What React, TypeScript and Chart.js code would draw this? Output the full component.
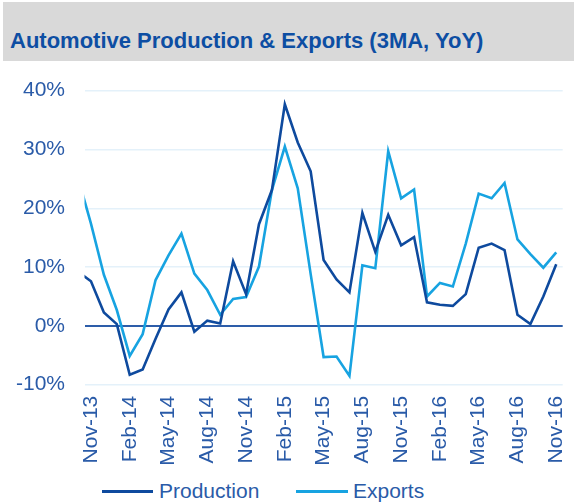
import React, { useEffect, useRef } from "react";
import { Chart, registerables } from "chart.js";

Chart.register(...registerables);

const months: string[] = [
  "Oct-13", "Nov-13", "Dec-13",
  "Jan-14", "Feb-14", "Mar-14", "Apr-14", "May-14", "Jun-14", "Jul-14", "Aug-14", "Sep-14", "Oct-14", "Nov-14", "Dec-14",
  "Jan-15", "Feb-15", "Mar-15", "Apr-15", "May-15", "Jun-15", "Jul-15", "Aug-15", "Sep-15", "Oct-15", "Nov-15", "Dec-15",
  "Jan-16", "Feb-16", "Mar-16", "Apr-16", "May-16", "Jun-16", "Jul-16", "Aug-16", "Sep-16", "Oct-16", "Nov-16",
];

const tickMonths: string[] = [
  "Nov-13", "Feb-14", "May-14", "Aug-14", "Nov-14", "Feb-15", "May-15",
  "Aug-15", "Nov-15", "Feb-16", "May-16", "Aug-16", "Nov-16",
];

const production: number[] = [
  9.2, 7.6, 2.3,
  0.3, -8.3, -7.4, -2.2, 2.8, 5.7, -1.0, 0.9, 0.4, 11.0, 5.4, 17.3,
  23.1, 37.7, 31.2, 26.3, 11.2, 7.9, 5.7, 19.2, 12.6, 18.9, 13.7, 15.1,
  4.0, 3.6, 3.4, 5.4, 13.3, 14.0, 12.9, 1.9, 0.3, 5.0, 10.5,
];

const exportsData: number[] = [
  25.2, 17.4, 8.7,
  2.7, -5.1, -1.4, 7.8, 12.0, 15.7, 8.9, 6.1, 1.9, 4.6, 4.9, 10.1,
  23.1, 30.5, 23.4, 8.8, -5.3, -5.2, -8.5, 10.3, 9.8, 29.7, 21.7, 23.2,
  5.0, 7.3, 6.7, 14.0, 22.5, 21.7, 24.3, 14.7, 12.2, 9.9, 12.5,
];

const seriesNames = ["Production", "Exports"];
const PROD_COLOR = "#0E4A9E";
const EXP_COLOR = "#17A3E1";
const TEXT_COLOR = "#2A5BA8";
const FONT = "'Liberation Sans', Arial, sans-serif";

const CANVAS_TOP = 61;
const CANVAS_H = 415;

export default function App() {
  const ref = useRef<HTMLCanvasElement | null>(null);

  useEffect(() => {
    if (!ref.current) return;
    const chart = new Chart(ref.current, {
      type: "line",
      data: {
        labels: months,
        datasets: [
          {
            label: seriesNames[0],
            data: production,
            borderColor: PROD_COLOR,
            backgroundColor: PROD_COLOR,
            borderWidth: 2.6,
            pointRadius: 0,
            tension: 0,
          },
          {
            label: seriesNames[1],
            data: exportsData,
            borderColor: EXP_COLOR,
            backgroundColor: EXP_COLOR,
            borderWidth: 2.6,
            pointRadius: 0,
            tension: 0,
          },
        ],
      },
      options: {
        responsive: false,
        animation: false,
        events: [],
        layout: { padding: { top: 29.7, right: 11.3, bottom: 0, left: 0 } },
        plugins: { legend: { display: false }, tooltip: { enabled: false } },
        scales: {
          x: {
            type: "category",
            min: "Nov-13",
            offset: true,
            grid: { display: false, drawTicks: false },
            border: { display: false },
            afterFit: (s: any) => {
              s.height = CANVAS_H - 29.7 - 294;
              s.paddingLeft = 0;
              s.paddingRight = 0;
            },
            ticks: {
              autoSkip: false,
              maxRotation: 90,
              minRotation: 90,
              padding: 11,
              color: TEXT_COLOR,
              font: { family: FONT, size: 21 },
              callback: function (this: any, value: any) {
                const lab = this.getLabelForValue(value);
                return tickMonths.includes(lab) ? lab : "";
              },
            },
          },
          y: {
            min: -10,
            max: 40,
            afterFit: (s: any) => {
              s.width = 84.5;
              s.paddingTop = 0;
              s.paddingBottom = 0;
            },
            grid: {
              drawTicks: false,
              color: (ctx: any) => (ctx.tick && ctx.tick.value === 0 ? "#2D5DA9" : "#E4F1FA"),
              lineWidth: (ctx: any) => (ctx.tick && ctx.tick.value === 0 ? 2 : 1.5),
            },
            border: { display: false },
            ticks: {
              stepSize: 10,
              padding: 19.5,
              color: TEXT_COLOR,
              font: { family: FONT, size: 21 },
              callback: (v: any) => `${v}%`,
            },
          },
        },
      },
    });
    return () => chart.destroy();
  }, []);

  const legendText: React.CSSProperties = {
    position: "absolute",
    top: 479,
    fontFamily: FONT,
    fontSize: 21,
    color: TEXT_COLOR,
    lineHeight: "24px",
    whiteSpace: "nowrap",
  };

  return (
    <div style={{ position: "fixed", left: 0, top: 0, width: 574, height: 504, background: "#fff", overflow: "hidden" }}>
      <div style={{ position: "absolute", left: 3, top: 2, width: 571, height: 59, background: "#D9D9D9" }} />
      <div
        style={{
          position: "absolute",
          left: 10,
          top: 27.5,
          fontFamily: FONT,
          fontWeight: "bold",
          fontSize: 22,
          color: "#0D4EA3",
          whiteSpace: "nowrap",
        }}
      >
        Automotive Production &amp; Exports (3MA, YoY)
      </div>
      <canvas
        ref={ref}
        width={574}
        height={CANVAS_H}
        style={{ position: "absolute", left: 0, top: CANVAS_TOP, width: 574, height: CANVAS_H }}
      />
      <div style={{ position: "absolute", left: 102, top: 490, width: 51, height: 3, background: PROD_COLOR }} />
      <div style={{ ...legendText, left: 159 }}>{seriesNames[0]}</div>
      <div style={{ position: "absolute", left: 296, top: 490, width: 52, height: 3, background: EXP_COLOR }} />
      <div style={{ ...legendText, left: 353 }}>{seriesNames[1]}</div>
    </div>
  );
}
